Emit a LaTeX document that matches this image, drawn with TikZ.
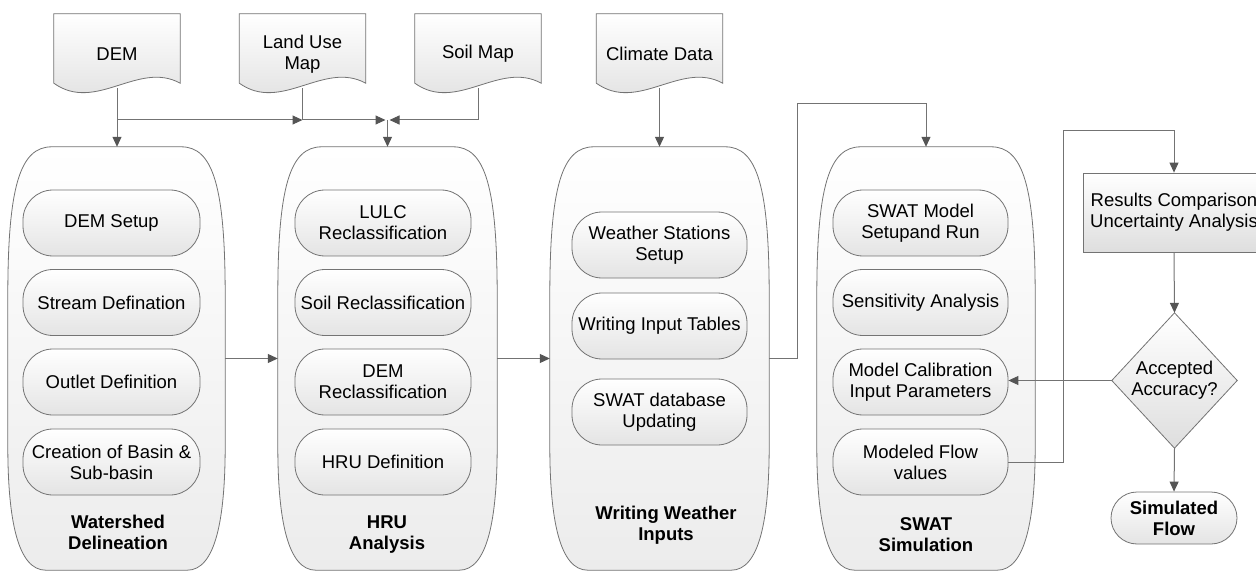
\documentclass[tikz,border=0pt]{standalone}
\usepackage{fontspec}
\setmainfont{Liberation Sans}
\usetikzlibrary{arrows.meta,calc}
\definecolor{lineC}{RGB}{115,115,115}
\definecolor{tipC}{RGB}{85,85,85}
\definecolor{fillP}{RGB}{228,228,228}
\definecolor{fillO}{RGB}{236,236,236}
\definecolor{fillD}{RGB}{222,222,222}
\newcommand{\bigpillpath}[1]{%
  \path[outerst] ($(#1.north west)+(44,0)$) -- ($(#1.north east)+(-44,0)$)
    .. controls ($(#1.north east)+(-12,0)$) and ($(#1.north east)+(0,40)$) .. ($(#1.north east)+(0,150)$)
    -- ($(#1.south east)+(0,-125)$)
    .. controls ($(#1.south east)+(0,-50)$) and ($(#1.south east)+(-10,0)$) .. ($(#1.south east)+(-38,0)$)
    -- ($(#1.south west)+(38,0)$)
    .. controls ($(#1.south west)+(10,0)$) and ($(#1.south west)+(0,-50)$) .. ($(#1.south west)+(0,-125)$)
    -- ($(#1.north west)+(0,150)$)
    .. controls ($(#1.north west)+(0,40)$) and ($(#1.north west)+(12,0)$) .. cycle;}
\newcommand{\docshapepath}[1]{%
  \path[docst] ($(#1.south west)+(0,-5)$) -- (#1.north west) -- (#1.north east) -- ($(#1.south east)+(0,-5)$)
    .. controls ($(#1.south east)+(-42,-28)$) and ($(#1.south west)+(42,25)$) .. ($(#1.south west)+(0,-5)$) -- cycle;}
\newcommand{\diamondpath}[1]{%
  \path[diast] (#1.north) -- (#1.east) -- (#1.south) -- (#1.west) -- cycle;}
\tikzset{
  base/.style={inner sep=0pt, align=center, font=\fontsize{18.5}{21}\selectfont},
  frame/.style={base, draw=none, minimum width=#1, minimum height=423pt},
  outerst/.style={draw=lineC, line width=0.8pt, top color=white, bottom color=fillO},
  docst/.style={draw=lineC, line width=0.8pt, top color=white, bottom color=fillD},
  diast/.style={draw=lineC, line width=0.8pt, top color=white, bottom color=fillD},
  docnode/.style={base, minimum width=126pt, minimum height=74pt},
  pill/.style={base, draw=lineC, line width=0.8pt, rounded corners=30pt, minimum width=#1, minimum height=66pt, top color=white, bottom color=fillP},
  boxst/.style={base, draw=lineC, line width=0.8pt, minimum width=182pt, minimum height=79pt, top color=white, bottom color=fillD},
  lab/.style={base, font=\fontsize{18.5}{21}\selectfont\bfseries},
  plain/.style={draw=lineC, line width=1pt},
  conn/.style={draw=lineC, line width=1pt, -{Triangle[length=10pt,width=9pt,color=tipC]}}
}
\begin{document}
\begin{tikzpicture}[x=1pt,y=-1pt]
\useasboundingbox (0,0) rectangle (1256,572);
% documents
\node[docnode] (dem) at (117,51) {};
\node[docnode] (lu) at (302.5,51) {};
\node[docnode] (soil) at (478,51) {};
\node[docnode] (clim) at (659.5,51) {};
\docshapepath{dem}\docshapepath{lu}\docshapepath{soil}\docshapepath{clim}
\node[base] at ($(dem)+(0,3)$) {DEM};
\node[base] at ($(lu)+(0,3)$) {Land Use\\Map};
\node[base] at ($(soil)+(0,3)$) {Soil Map};
\node[base] at ($(clim)+(0,3)$) {Climate Data};
% containers
\node[frame=217pt] (ws) at (116.5,358.5) {};
\node[frame=219pt] (hru) at (387.5,358.5) {};
\node[frame=219pt] (wea) at (659.5,358.5) {};
\node[frame=218pt] (swat) at (926,358.5) {};
\bigpillpath{ws}\bigpillpath{hru}\bigpillpath{wea}\bigpillpath{swat}
% watershed
\node[pill=177pt] (w1) at (111.5,223) {DEM Setup};
\node[pill=177pt] (w2) at (111.5,302.5) {Stream Defination};
\node[pill=177pt] (w3) at (111.5,382) {Outlet Definition};
\node[pill=177pt] (w4) at (111.5,462) {Creation of Basin \&\\Sub-basin};
\node[lab] (wsl) at (118,532) {Watershed\\Delineation};
% hru
\node[pill=176pt] (h1) at (383,223) {LULC\\Reclassification};
\node[pill=176pt] (h2) at (383,302.5) {Soil Reclassification};
\node[pill=176pt] (h3) at (383,382) {DEM\\Reclassification};
\node[pill=176pt] (h4) at (383,462) {HRU Definition};
\node[lab] (hrul) at (387,535) {HRU\\Analysis};
% weather
\node[pill=175pt] (e1) at (659.5,245) {Weather Stations\\Setup};
\node[pill=175pt] (e2) at (659.5,326) {Writing Input Tables};
\node[pill=175pt] (e3) at (659.5,412) {SWAT database\\Updating};
\node[lab] (weal) at (666,525) {Writing Weather\\Inputs};
% swat
\node[pill=175pt] (s1) at (920.5,223) {SWAT Model\\Setupand Run};
\node[pill=175pt] (s2) at (920.5,302.5) {Sensitivity Analysis};
\node[pill=175pt] (mc) at (920.5,382) {Model Calibration\\Input Parameters};
\node[pill=175pt] (mf) at (920.5,462) {Modeled Flow\\values};
\node[lab] (swl) at (926,535) {SWAT\\Simulation};
% right column
\node[boxst] (res) at (1174,212.5) {Results Comparison\\Uncertainty Analysis};
\node[base, minimum width=125pt, minimum height=135pt] (acc) at (1174.5,380.5) {};
\diamondpath{acc}
\node[base] at (acc) {Accepted\\Accuracy?};
\node[pill=126pt, rounded corners=26pt, minimum height=52pt, font=\fontsize{18.5}{21}\selectfont\bfseries] (sim) at (1174,518) {Simulated\\Flow};
% connectors
\coordinate (bus) at (0,120);
\coordinate (t2) at (797,104);
\coordinate (t3) at (1063,131);
\draw[conn] (dem.south) -- (dem.south |- ws.north);
\draw[conn] (dem.south |- bus) -- (lu.south |- bus);
\draw[plain] (lu.south) -- (lu.south |- bus);
\draw[conn] (lu.south |- bus) -- ($(hru.north |- bus)+(-2,0)$);
\draw[conn] (soil.south) |- ($(hru.north |- bus)+(2,0)$);
\draw[conn] (hru.north |- bus) -- (hru.north);
\draw[conn] (clim.south) -- (wea.north);
\draw[conn] (ws.east) -- (hru.west);
\draw[conn] (hru.east) -- (wea.west);
\draw[conn] (wea.east) -| (t2) -| (swat.north);
\draw[conn] (mf.east) -| (t3) -| (res.north);
\draw[conn] (res.south) -- (acc.north);
\draw[conn] (acc.south) -- (sim.north);
\draw[conn] (acc.west) -- (acc.west -| mc.east);
\end{tikzpicture}
\end{document}
